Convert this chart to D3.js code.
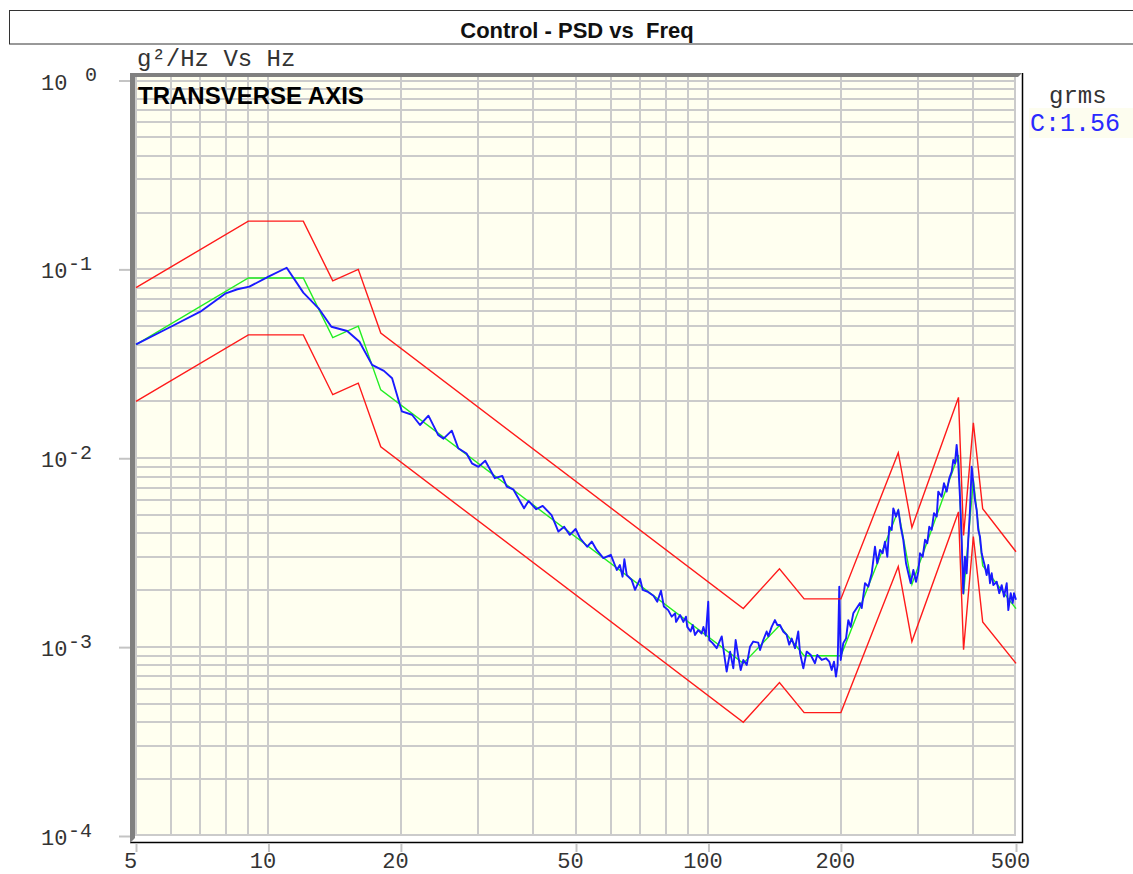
<!DOCTYPE html>
<meta charset="utf-8">
<script src="https://d3js.org/d3.v7.min.js"></script>
<style>
    body {
        margin: 0;
        background: #fff;
    }

    text {
        white-space: pre;
    }

    .mono {
        font-family: "Liberation Mono", "Courier New", monospace;
        fill: #333;
    }

    .grid line {
        stroke: #cbcbcb;
        stroke-width: 2;
        shape-rendering: crispEdges;
    }

    .tick line {
        stroke: #c4c4c4;
        stroke-width: 2;
    }
</style>
<div id="viz_area"></div>
<script>
    // reference profile + tolerance lines (Hz, g²/Hz)
    var refFreq = [5, 9, 12, 14, 16, 18, 120, 145, 165, 200, 270, 290, 370, 380, 400, 420, 500]
    var refPsd = [0.04, 0.09, 0.09, 0.0435, 0.05, 0.023, 0.00082, 0.0013, 0.0009, 0.0009, 0.0053, 0.00215, 0.0104, 0.0019, 0.0077, 0.0027, 0.0016]
    var upperPsd = [0.08, 0.18, 0.18, 0.087, 0.1, 0.046, 0.0016, 0.0026, 0.0018, 0.0018, 0.0107, 0.0043, 0.021, 0.0039, 0.0154, 0.0054, 0.0032]
    var lowerPsd = [0.02, 0.045, 0.045, 0.0217, 0.025, 0.0115, 0.0004, 0.00065, 0.00045, 0.00045, 0.00267, 0.00107, 0.0052, 0.00097, 0.00385, 0.00136, 0.00082]

    // measured control spectrum
    var ctrlFreq = [5.0, 6.0, 7.0, 8.0, 8.5, 9.05, 10.0, 11.0, 12.0, 13.0, 13.9, 15.1, 16.1, 17.2, 18.3, 19.1,
        20.1, 21.2, 22.1, 23.1, 24.3, 25.0, 26.1, 27.0, 28.2, 29.0, 30.0, 31.1, 32.7, 34.0, 34.8, 36.0,
        38.1, 39.0, 40.6, 42.0, 44.0, 45.6, 47.0, 48.4, 49.9, 51.1, 53.0, 54.3, 55.7, 57.7, 60.0, 61.9,
        62.9, 63.8, 64.4, 65.2, 66.9, 68.1, 69.9, 70.9, 72.6, 75.0, 76.5, 78.0, 79.2, 81.0, 82.5, 84.0,
        84.4, 86.2, 87.7, 88.9, 89.5, 91.1, 92.1, 93.2, 94.8, 96.5, 97.4, 98.6, 99.9, 100.4, 102.2, 104.4,
        107.2, 108.5, 110.0, 112.0, 113.9, 115.3, 116.9, 118.4, 120.0, 122.2, 124.3, 126.4, 129.8, 131.0,
        133.2, 135.6, 136.8, 139.2, 141.6, 143.4, 145.4, 147.9, 150.6, 152.6, 154.6, 157.3, 160.0, 161.5,
        164.3, 167.2, 170.8, 174.6, 176.7, 180.9, 185.0, 188.2, 190.6, 192.9, 194.9, 196.6, 198.3, 199.8,
        202.5, 205.4, 207.9, 210.5, 213.4, 217.3, 221.0, 223.0, 226.9, 230.8, 235.0, 239.0, 241.9, 245.4,
        248.8, 251.9, 255.0, 257.6, 260.9, 263.1, 266.8, 270.1, 273.5, 277.2, 281.2, 284.6, 288.2, 292.2,
        296.3, 299.9, 302.5, 306.9, 310.6, 314.3, 317.6, 321.6, 325.5, 330.2, 332.9, 338.8, 343.0, 347.9,
        352.6, 357.1, 360.1, 363.3, 366.5, 369.6, 372.9, 376.3, 379.4, 382.8, 386.2, 389.5, 393.0, 396.5,
        399.9, 403.4, 407.0, 410.4, 414.1, 417.8, 421.3, 425.0, 428.8, 432.5, 436.4, 440.3, 444.0, 452.0,
        458.1, 464.0, 469.6, 476.3, 480.3, 486.4, 491.4, 494.8, 500
    ]
    var ctrlPsd = [0.0401, 0.0497, 0.0597, 0.0747, 0.0785, 0.081, 0.0915, 0.102, 0.0753, 0.0622, 0.0497, 0.0472, 0.0414, 0.0312, 0.029, 0.0265,
        0.0177, 0.017, 0.015, 0.0168, 0.0133, 0.0127, 0.014, 0.0113, 0.0106, 0.0094, 0.009, 0.0097, 0.00784, 0.00806, 0.00708, 0.00685,
        0.00543, 0.00594, 0.00537, 0.00559, 0.005, 0.00409, 0.00434, 0.00393, 0.00422, 0.00377, 0.0034, 0.00362, 0.00327, 0.00296, 0.00308, 0.00256,
        0.00272, 0.00236, 0.00292, 0.00241, 0.00227, 0.00201, 0.0023, 0.00201, 0.00197, 0.00187, 0.00174, 0.00199, 0.00164, 0.00157, 0.00145, 0.00151,
        0.00136, 0.00148, 0.00136, 0.00145, 0.00128, 0.00121, 0.00131, 0.00116, 0.00123, 0.00118, 0.00128, 0.00115, 0.00174, 0.00109, 0.00105, 0.000987,
        0.00114, 0.000928, 0.000742, 0.000947, 0.000773, 0.00109, 0.000891, 0.000757, 0.000855, 0.000805, 0.001006, 0.00107, 0.001056, 0.000966,
        0.00109, 0.00121, 0.00114, 0.00128, 0.00139, 0.00131, 0.00131, 0.00121, 0.00116, 0.00103, 0.00111, 0.000987, 0.00121, 0.000928,
        0.000773, 0.000947, 0.000909, 0.000822, 0.000909, 0.000855, 0.000873, 0.000838, 0.000757, 0.000838, 0.000698, 0.000805, 0.00209, 0.000855,
        0.00105, 0.00111, 0.00139, 0.00128, 0.00151, 0.00161, 0.00171, 0.00161, 0.00218, 0.00209, 0.00246, 0.0034, 0.00278, 0.00327,
        0.00314, 0.00362, 0.00301, 0.00434, 0.00417, 0.00543, 0.00491, 0.00532, 0.00434, 0.0037, 0.00278, 0.00246, 0.00218, 0.00256,
        0.00222, 0.00251, 0.00314, 0.00301, 0.0037, 0.00355, 0.00434, 0.00417, 0.00512, 0.00491, 0.00666, 0.00626, 0.00737, 0.00666,
        0.00783, 0.00849, 0.0098, 0.0094, 0.01176, 0.0094, 0.00626, 0.0037, 0.00193, 0.00301, 0.00246, 0.0037, 0.00532, 0.00903,
        0.00737, 0.00601, 0.00532, 0.00417, 0.00385, 0.00314, 0.00289, 0.00267, 0.00241, 0.00272, 0.00218, 0.00246, 0.00213, 0.00222,
        0.00193, 0.00213, 0.00185, 0.00218, 0.00157, 0.00193, 0.00171, 0.00193, 0.00178
    ]

    var xTicks = [5, 10, 20, 50, 100, 200, 500]
    var yDecades = [1, 0.1, 0.01, 0.001, 0.0001]
    var yExp = ["0", "-1", "-2", "-3", "-4"]
    var grmsLabel = "C:1.56"

    var W = 1133,
        H = 874
    var svG = d3.select("#viz_area")
        .append("svg")
        .attr("width", W)
        .attr("height", H)

    // plot box
    var pLeft = 135,
        pTop = 77,
        pRight = 1016,
        pBottom = 836

    var x = d3.scaleLog().domain([5, 500]).range([136, 1016])
    var y = d3.scaleLog().domain([1e-4, 1]).range([836, 80.5])

    // title
    svG.append("rect")
        .attr("x", 9.5).attr("y", 10.5)
        .attr("width", 1140).attr("height", 33.5)
        .attr("fill", "#fff").attr("stroke", "#333")
    svG.append("text")
        .attr("x", 577).attr("y", 38)
        .attr("text-anchor", "middle")
        .style("font-family", "'Liberation Sans', Arial, sans-serif")
        .style("font-size", "22px")
        .style("font-weight", "bold")
        .attr("fill", "#111")
        .text("Control - PSD vs  Freq")

    // sunken frame
    svG.append("rect")
        .attr("x", 130).attr("y", 73)
        .attr("width", 893).attr("height", 770)
        .attr("fill", "#fff")
    svG.append("path")
        .attr("d", "M1022.5,73V842.5H130")
        .attr("fill", "none").attr("stroke", "#000").attr("stroke-width", 1.5)
    svG.append("polygon")
        .attr("points", "130,73 1022,73 1018,77 135,77 135,838 130,843")
        .attr("fill", "#808080")
    svG.append("rect")
        .attr("x", pLeft).attr("y", pTop)
        .attr("width", pRight - pLeft).attr("height", pBottom - pTop)
        .attr("fill", "#fffff0")

    // grid
    var xGrid = []
    var yGrid = []
    ;[1, 10, 100].forEach(function(d) {
        for (var i = 1; i < 10; i++) {
            var v = d * i
            if (v >= 5 && v <= 500) xGrid.push(v)
        }
    })
    ;[1e-4, 1e-3, 1e-2, 1e-1].forEach(function(d) {
        for (var i = 1; i < 10; i++) yGrid.push(d * i)
    })
    yGrid.push(1)

    var grid = svG.append("g").attr("class", "grid")
    grid.selectAll(".vg").data(xGrid).enter().append("line")
        .attr("x1", function(d) { return Math.min(x(d), pRight - 1) })
        .attr("x2", function(d) { return Math.min(x(d), pRight - 1) })
        .attr("y1", pTop).attr("y2", pBottom)
    grid.selectAll(".hg").data(yGrid).enter().append("line")
        .attr("x1", pLeft).attr("x2", pRight)
        .attr("y1", function(d) { return Math.min(y(d), pBottom - 1) })
        .attr("y2", function(d) { return Math.min(y(d), pBottom - 1) })

    // axes (ticks outside frame)
    var xAxis = svG.append("g")
        .attr("transform", "translate(0,843)")
        .call(d3.axisBottom(x).tickValues(xTicks).tickSize(9).tickFormat(d3.format("d")))
    xAxis.select(".domain").remove()
    xAxis.selectAll("text")
        .attr("class", "mono")
        .attr("y", 25).attr("dy", null).attr("dx", -6)
        .style("font-size", "22px")

    var yAxis = svG.append("g")
        .attr("transform", "translate(130,0)")
        .call(d3.axisLeft(y).tickValues(yDecades).tickSize(11).tickFormat(""))
    yAxis.select(".domain").remove()

    var ylab = svG.append("g").selectAll("g")
        .data(yDecades).enter().append("g")
    ylab.append("text")
        .attr("class", "mono")
        .attr("x", 41).attr("y", function(d) { return y(d) + 9 })
        .style("font-size", "22px")
        .text("10")
    ylab.append("text")
        .attr("class", "mono")
        .attr("x", function(d, i) { return i === 0 ? 85 : 68 })
        .attr("y", function(d) { return y(d) + 0.5 })
        .style("font-size", "20px")
        .text(function(d, i) { return yExp[i] })

    svG.append("text")
        .attr("class", "mono")
        .attr("x", 137).attr("y", 65.5)
        .style("font-size", "24px")
        .text("g²/Hz Vs Hz")

    svG.append("text")
        .attr("x", 138).attr("y", 104)
        .style("font-family", "'Liberation Sans', Arial, sans-serif")
        .style("font-size", "24px")
        .style("font-weight", "bold")
        .attr("fill", "#000")
        .text("TRANSVERSE AXIS")

    // curves
    var line = d3.line()
        .x(function(d) { return x(d[0]) })
        .y(function(d) { return y(d[1]) })
    var plot = svG.append("g")

    plot.append("path")
        .datum(d3.zip(refFreq, refPsd))
        .attr("d", line)
        .attr("fill", "none").attr("stroke", "#22ee22").attr("stroke-width", 1.4)
    plot.append("path")
        .datum(d3.zip(ctrlFreq, ctrlPsd))
        .attr("d", line)
        .attr("fill", "none").attr("stroke", "#1a1aff").attr("stroke-width", 1.9)
        .attr("stroke-linejoin", "round")
    ;[upperPsd, lowerPsd].forEach(function(arr) {
        plot.append("path")
            .datum(d3.zip(refFreq, arr))
            .attr("d", line)
            .attr("fill", "none").attr("stroke", "#ff1a1a").attr("stroke-width", 1.4)
    })

    // grms legend
    svG.append("text")
        .attr("class", "mono")
        .attr("x", 1049).attr("y", 103)
        .style("font-size", "24px")
        .text("grms")
    svG.append("rect")
        .attr("x", 1029).attr("y", 108)
        .attr("width", 104).attr("height", 30)
        .attr("fill", "#fdfdef")
    svG.append("text")
        .attr("class", "mono")
        .attr("x", 1030).attr("y", 131)
        .style("font-size", "25px")
        .style("fill", "#2a2aff")
        .text(grmsLabel)
</script>
